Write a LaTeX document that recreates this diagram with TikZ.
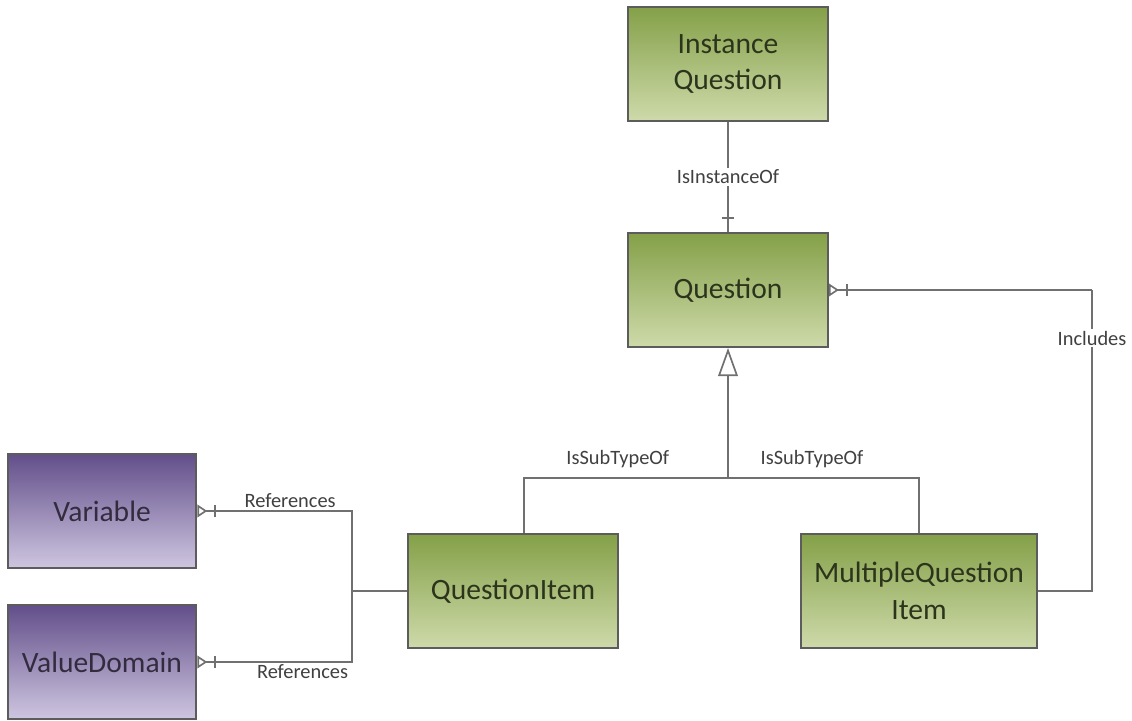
\documentclass[tikz,border=0pt]{standalone}
\usepackage{fontspec}
\setmainfont{Carlito}
\usetikzlibrary{arrows.meta}

\definecolor{qgreentop}{RGB}{132,160,72}
\definecolor{qgreenbot}{RGB}{206,218,170}
\definecolor{vpurpletop}{RGB}{98,78,138}
\definecolor{vpurplebot}{RGB}{206,198,224}
\definecolor{boxline}{RGB}{92,92,92}
\definecolor{conline}{RGB}{112,112,112}
\definecolor{qtext}{RGB}{44,52,28}
\definecolor{vtext}{RGB}{50,44,62}

\tikzset{
  entity/.style={draw=boxline, line width=1.4pt, minimum height=2.85cm, align=center,
    font=\fontsize{21}{26}\selectfont},
  qbox/.style={entity, top color=qgreentop, bottom color=qgreenbot, text=qtext},
  vbox/.style={entity, top color=vpurpletop, bottom color=vpurplebot, text=vtext},
  rel/.style={draw=conline, line width=1.2pt},
  rlabel/.style={font=\fontsize{14.5}{16}\selectfont, text=black!75, fill=white, inner sep=1.5pt},
  many/.style={-{Bar[width=9pt,sep=5pt]Triangle[open,reversed,length=7pt,width=9pt]}},
  isa/.style={-{Triangle[open,length=20pt,width=14pt]}},
}

\begin{document}
\begin{tikzpicture}[x=0.025cm, y=-0.025cm]
  \useasboundingbox (0,0) rectangle (1132,721);

  % entities
  \node[qbox, minimum width=5cm] (instq) at (728,64) {Instance\\Question};
  \node[qbox, minimum width=5cm] (question) at (728,290) {Question};
  \node[qbox, minimum width=5.25cm] (qitem) at (513,591) {QuestionItem};
  \node[qbox, minimum width=5.9cm] (mqitem) at (919,591) {MultipleQuestion\\Item};
  \node[vbox, minimum width=4.72cm] (variable) at (102,511) {Variable};
  \node[vbox, minimum width=4.72cm] (valdom) at (102,662) {ValueDomain};

  % join points
  \coordinate (subjoin) at (728,478);
  \coordinate (incl) at (1092,290);
  \coordinate (refjoin) at (352,591);

  % relations
  \draw[rel] (instq) -- node[rlabel] {IsInstanceOf} (question);
  \draw[rel] ([xshift=-4.5pt,yshift=10pt]question.north) -- ++(9pt,0);

  \draw[rel] ([xshift=0.275cm]qitem.north) |- node[rlabel, above, yshift=5pt, pos=0.73] {IsSubTypeOf} (subjoin);
  \draw[rel] (mqitem.north) |- node[rlabel, above, yshift=5pt, pos=0.78] {IsSubTypeOf} (subjoin);
  \draw[rel, isa] (subjoin) -- (question);

  \draw[rel] (mqitem.east) -| node[rlabel, pos=0.92] {Includes} (incl);
  \draw[rel, many] (incl) -- (question.east);

  \draw[rel] (qitem.west) -- (refjoin);
  \draw[rel, many] (refjoin) |- node[rlabel, above, pos=0.7] {References} (variable.east);
  \draw[rel, many] (refjoin) |- node[rlabel, below, pos=0.66] {References} (valdom.east);
\end{tikzpicture}
\end{document}
